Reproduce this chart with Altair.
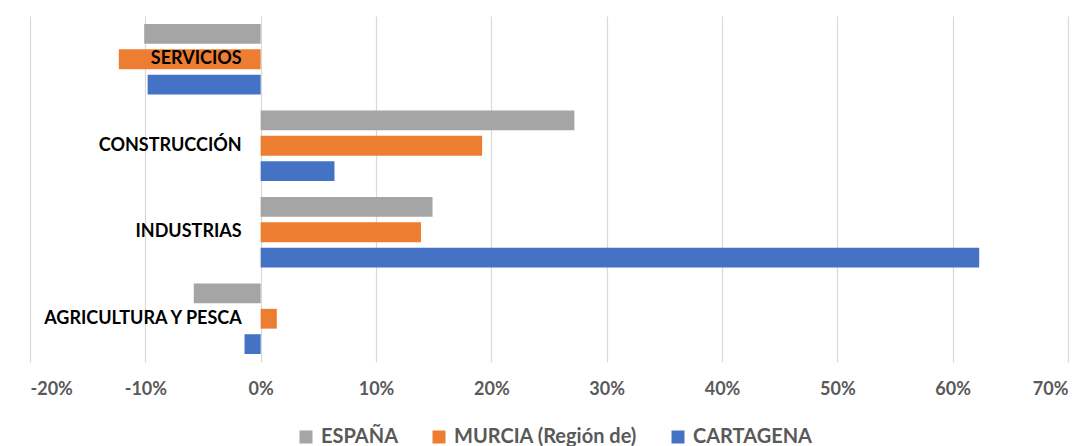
import altair as alt
import pandas as pd

categorias = ["SERVICIOS", "CONSTRUCCIÓN", "INDUSTRIAS", "AGRICULTURA Y PESCA"]
series = ["ESPAÑA", "MURCIA (Región de)", "CARTAGENA"]
colores = ["#A5A5A5", "#ED7D31", "#4472C4"]
espana = [-0.101, 0.272, 0.149, -0.058]
murcia = [-0.123, 0.192, 0.139, 0.014]
cartagena = [-0.098, 0.064, 0.623, -0.014]
ticks = [-0.2, -0.1, 0.0, 0.1, 0.2, 0.3, 0.4, 0.5, 0.6, 0.7]

rows = []
for i, c in enumerate(categorias):
    for s, vals in zip(series, [espana, murcia, cartagena]):
        rows.append({"categoria": c, "serie": s, "valor": vals[i]})
df = pd.DataFrame(rows)
df_cat = pd.DataFrame({"categoria": categorias})

FONT = "Lato"

yenc = alt.Y("categoria:N", sort=categorias,
             scale=alt.Scale(paddingInner=0.12, paddingOuter=0.06),
             axis=None)

bars = alt.Chart(df).mark_bar(cornerRadius=0).encode(
    x=alt.X("valor:Q",
            scale=alt.Scale(domain=[-0.2, 0.7], nice=False, zero=False),
            axis=alt.Axis(values=ticks, title=None, grid=True,
                          labelExpr="replace(format(datum.value, '.0%'), '\u2212', '-')",
                          gridColor="#D9D9D9", gridWidth=1.2, domain=False,
                          ticks=False, labelPadding=18, labelFont=FONT,
                          labelFontSize=18, labelFontWeight="bold",
                          labelColor="#595959")),
    y=yenc,
    yOffset=alt.YOffset("serie:N", sort=series,
                        scale=alt.Scale(paddingInner=0.22, paddingOuter=0.11)),
    color=alt.Color("serie:N", sort=series,
                    scale=alt.Scale(domain=series, range=colores),
                    legend=alt.Legend(title=None, orient="none", direction="horizontal",
                                      legendX=266, legendY=411,
                                      symbolType="square", symbolSize=169,
                                      symbolStrokeWidth=0,
                                      labelFont=FONT, labelFontSize=20,
                                      labelFontWeight="bold", labelColor="#595959",
                                      labelOffset=5, columnPadding=30,
                                      labelLimit=400)),
)

labels = alt.Chart(df_cat).mark_text(
    align="right", baseline="middle", dx=-19, font=FONT, fontSize=18,
    fontWeight="bold", color="#000000"
).encode(
    x=alt.datum(0),
    y=yenc,
    text="categoria:N",
)

chart = alt.layer(bars, labels).properties(
    width=1038, height=346,
    padding={"left": 22, "top": 8, "right": 12, "bottom": 84},
    autosize="none",
    background="white",
).configure_view(stroke=None)

chart.save("out.html", embed_options={"renderer": "svg", "actions": False})
